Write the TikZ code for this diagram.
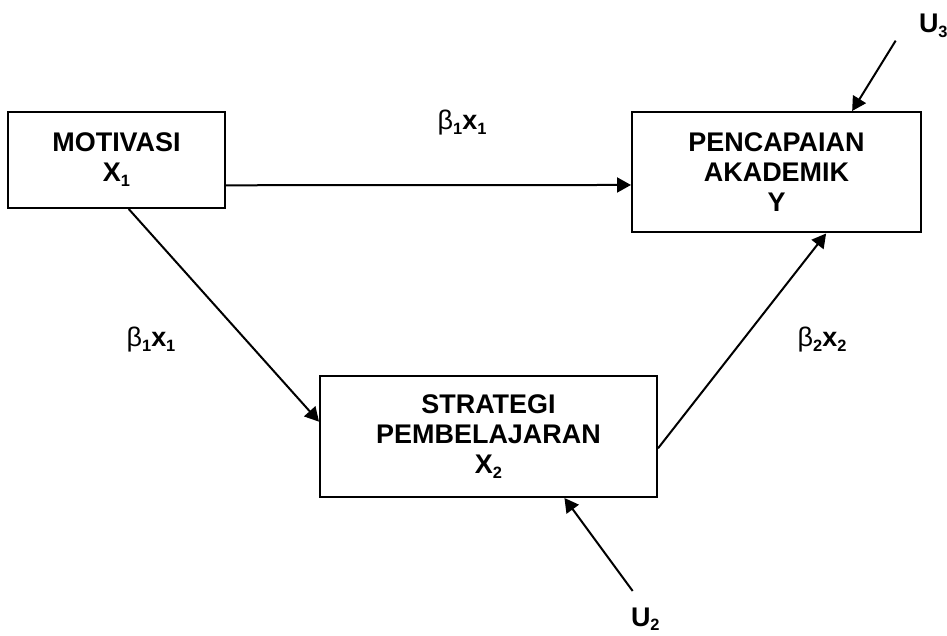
\documentclass[tikz,border=0pt]{standalone}
\usepackage{fontspec}
\setmainfont{Liberation Sans}
\usepackage{tikz}
\usetikzlibrary{arrows.meta}
\newcommand{\lowsub}[1]{\raisebox{-4.2pt}{\fontsize{14pt}{14pt}\selectfont #1}}

\begin{document}
\begin{tikzpicture}[>={Triangle[length=4.2mm,width=4.5mm]},line width=0.6mm,
  font=\fontsize{23pt}{25.6pt}\selectfont\bfseries,
  box/.style={draw,align=center,inner sep=0pt},
  lab/.style={inner sep=0pt,anchor=base}]
\useasboundingbox (0,0) rectangle (28.41,19.05);
\node[box,minimum width=6.51cm,minimum height=2.88cm] (mot) at (3.495,14.25) {MOTIVASI\\X\lowsub{1}};
\node[box,minimum width=8.67cm,minimum height=3.615cm] (ach) at (23.295,13.8825) {PENCAPAIAN\\AKADEMIK\\Y};
\node[box,minimum width=10.11cm,minimum height=3.63cm] (str) at (14.655,5.955) {STRATEGI\\PEMBELAJARAN\\X\lowsub{2}};
\node[lab] (b1top) at (13.86,15.15) {{\mdseries β}\lowsub{1}x\lowsub{1}};
\node[lab] (b1low) at (4.53,8.64) {{\mdseries β}\lowsub{1}x\lowsub{1}};
\node[lab] (b2) at (24.66,8.64) {{\mdseries β}\lowsub{2}x\lowsub{2}};
\node[lab,anchor=base west] (u2) at (18.9,0.27) {U\lowsub{2}};
\node[lab,anchor=base west] (u3) at (27.54,18.06) {U\lowsub{3}};
\coordinate (u2t) at (18.98,1.32);
\coordinate (u3t) at (26.87,17.83);
\draw[->] (mot.-13) -- (ach.185);
\draw[->] (mot.-76.5) -- (str.175.1);
\draw[->] (str.-4) -- (ach.-51.4);
\draw[->] (u2t) -- (str.-39.4);
\draw[->] (u3t) -- (ach.39.7);
\end{tikzpicture}
\end{document}
